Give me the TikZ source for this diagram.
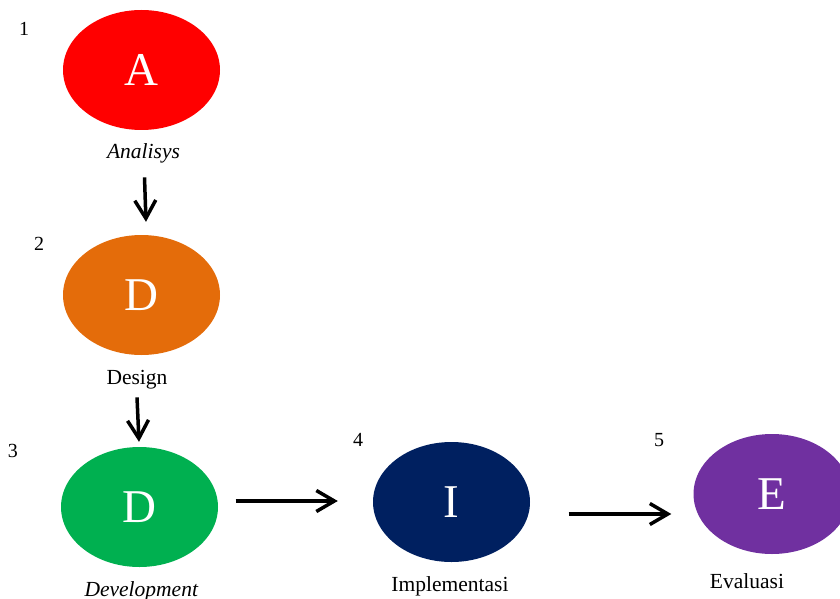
\documentclass[tikz,border=0pt]{standalone}
\usepackage{fontspec}
\setmainfont{Liberation Serif}
\usetikzlibrary{shapes.geometric, arrows.meta, positioning}
\definecolor{phaseRed}{HTML}{FF0000}
\definecolor{phaseOrange}{HTML}{E46C0A}
\definecolor{phaseGreen}{HTML}{00B050}
\definecolor{phaseNavy}{HTML}{002060}
\definecolor{phasePurple}{HTML}{7030A0}
\tikzset{
    phase/.style={ellipse, minimum width=157pt, minimum height=120pt, inner sep=0pt,
        text=white, font=\fontsize{47}{47}\selectfont},
    caption/.style={inner sep=0pt, anchor=base, font=\fontsize{21.5}{21.5}\selectfont},
    stepnum/.style={inner sep=0pt, anchor=base, font=\fontsize{20}{20}\selectfont},
    flow/.style={line width=3.5pt, -{Straight Barb[length=18pt, width=21pt]}}
}

\begin{document}
\begin{tikzpicture}[x=1pt, y=-1pt]
            \useasboundingbox (0,0) rectangle (840,599);
            % phases
            \node[phase, fill=phaseRed] (a) at (141.5,70) {A};
            \node[phase, fill=phaseOrange] (d1) at (141.5,295) {D};
            \node[phase, fill=phaseGreen] (d2) at (139.5,507) {D};
            \node[phase, fill=phaseNavy] (i) at (451.5,502) {I};
            \node[phase, fill=phasePurple] (e) at (772,494) {E};
            % captions
            \node[caption] (ana) at (143.5,158) {\textit{Analisys}};
            \node[caption] (des) at (137,384) {Design};
            \node[caption] (dev) at (141.5,596) {\textit{Development}};
            \node[caption] (imp) at (450,591) {Implementasi};
            \node[caption] (eva) at (747,588) {Evaluasi};
            % numbers
            \node[stepnum] (n1) at (24,36) {1};
            \node[stepnum] (n2) at (39,250) {2};
            \node[stepnum] (n3) at (13,457) {3};
            \node[stepnum] (n4) at (358,446) {4};
            \node[stepnum] (n5) at (659,446) {5};
            % arrows
            \draw[flow] ([xshift=1pt, yshift=-14.5pt]ana.south) -- ([xshift=4.5pt, yshift=13pt]d1.north);
            \draw[flow] ([yshift=-8.5pt]des.south) -- ([xshift=-0.5pt, yshift=5pt]d2.north);
            \draw[flow] ([xshift=17.5pt, yshift=6pt]d2.east) -- ([xshift=-35pt, yshift=1pt]i.west);
            \draw[flow] ([xshift=38.5pt, yshift=-12pt]i.east) -- ([xshift=-22pt, yshift=-20pt]e.west);
        \end{tikzpicture}
\end{document}
